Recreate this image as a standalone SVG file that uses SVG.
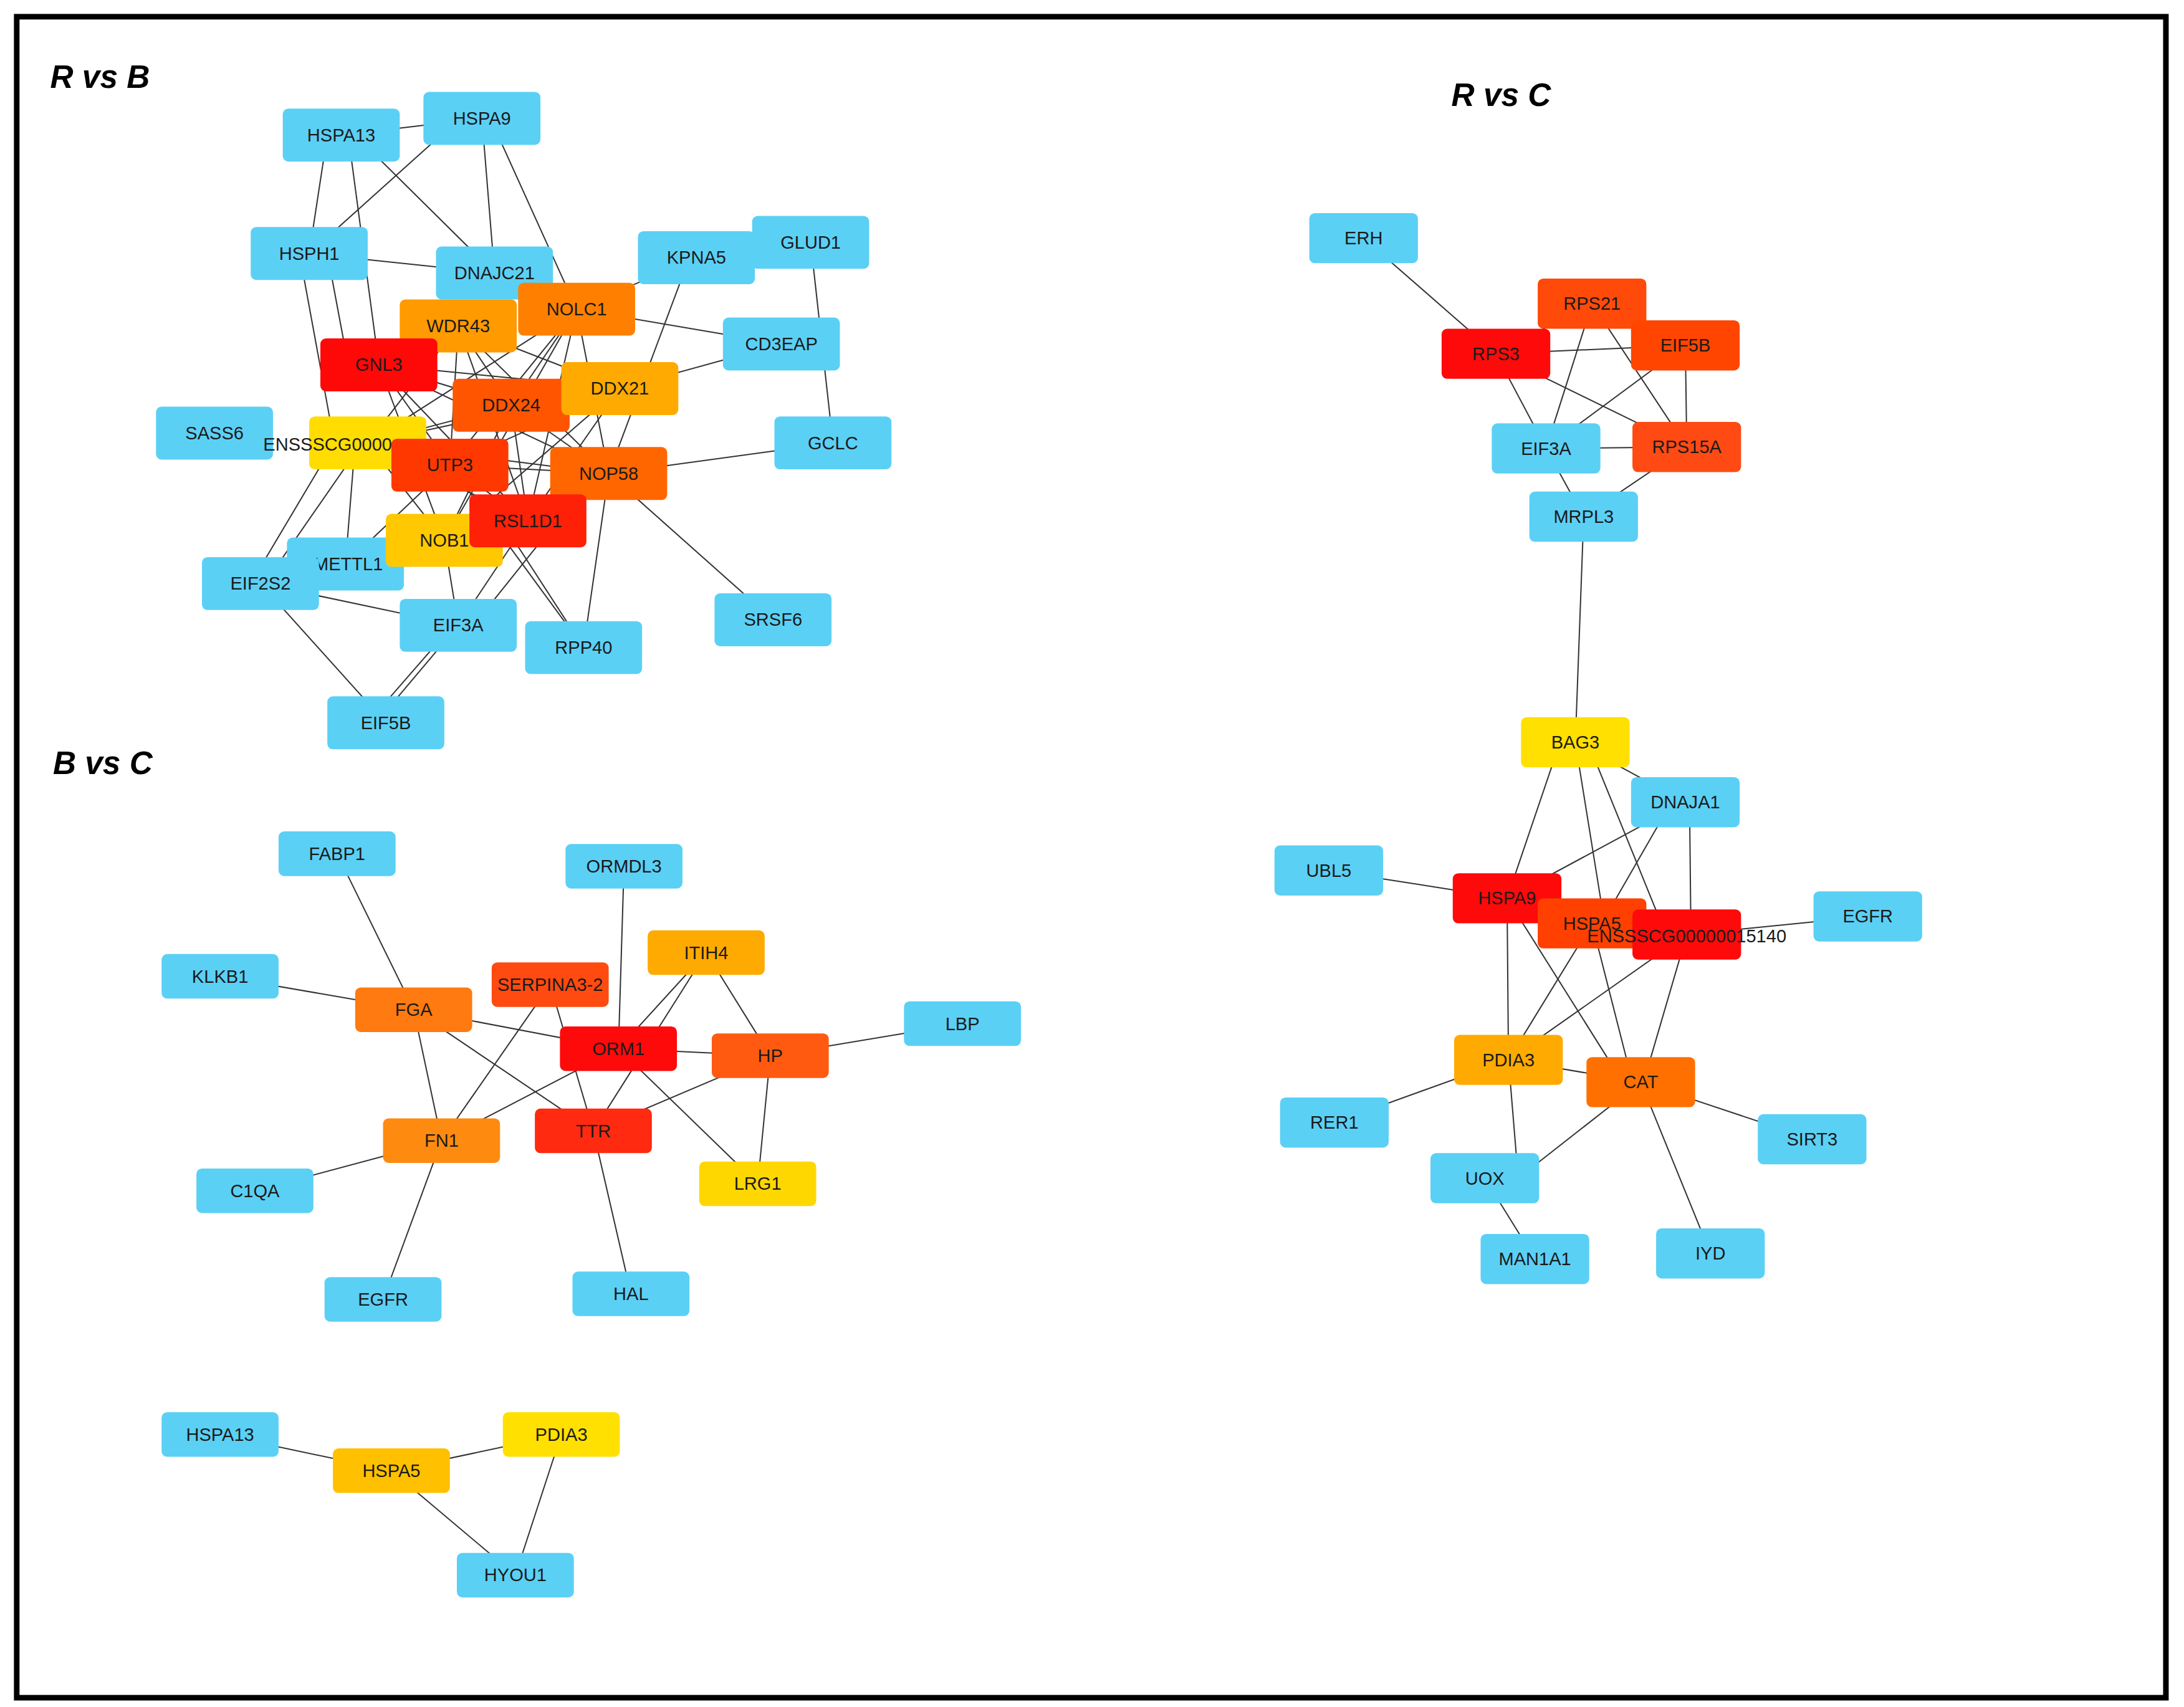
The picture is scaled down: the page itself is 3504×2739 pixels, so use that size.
<svg xmlns="http://www.w3.org/2000/svg" width="3504" height="2739" viewBox="0 0 3504 2739">
<style>
.n rect{rx:4;ry:4}
.b rect{fill:#5BD0F5}
.n text{font-family:"Liberation Sans",Arial,sans-serif;font-size:13px;fill:#1a1a1a;text-anchor:middle;dominant-baseline:central}
.e line{stroke:#333;stroke-width:0.9}
.t{font-family:"Liberation Sans",Arial,sans-serif;font-weight:bold;font-style:italic;font-size:23px;fill:#000}
</style>
<rect width="3504" height="2739" fill="#fff"/>
<g transform="scale(2.2347)">
<rect x="12" y="12" width="1543" height="1207" fill="none" stroke="#000" stroke-width="4"/>
<text class="t" x="36" y="63">R vs B</text>
<text class="t" x="1042" y="76">R vs C</text>
<text class="t" x="38" y="556">B vs C</text>
<g class="e" id="edges">
<line x1="245" y1="97" x2="346" y2="85"/><line x1="235" y1="97" x2="222" y2="182"/><line x1="250" y1="97" x2="272" y2="262"/><line x1="255" y1="97" x2="355" y2="196"/>
<line x1="330" y1="85" x2="222" y2="182"/><line x1="346" y1="85" x2="355" y2="196"/><line x1="352" y1="85" x2="414" y2="222"/>
<line x1="222" y1="182" x2="355" y2="196"/><line x1="215" y1="182" x2="240" y2="318"/><line x1="235" y1="182" x2="250" y2="262"/>
<line x1="500" y1="185" x2="414" y2="222"/><line x1="495" y1="185" x2="437" y2="340"/><line x1="582" y1="174" x2="598" y2="318"/>
<line x1="414" y1="222" x2="561" y2="247"/><line x1="445" y1="279" x2="561" y2="247"/><line x1="437" y1="340" x2="598" y2="318"/>
<line x1="437" y1="340" x2="555" y2="445"/><line x1="437" y1="340" x2="419" y2="465"/>
<line x1="187" y1="419" x2="277" y2="519"/><line x1="329" y1="449" x2="270" y2="519"/><line x1="325" y1="449" x2="264" y2="519"/><line x1="187" y1="419" x2="329" y2="449"/>
<line x1="180" y1="419" x2="240" y2="318"/><line x1="190" y1="419" x2="260" y2="318"/><line x1="248" y1="405" x2="255" y2="318"/><line x1="248" y1="405" x2="323" y2="334"/>
<line x1="329" y1="449" x2="319" y2="388"/><line x1="329" y1="449" x2="379" y2="374"/><line x1="340" y1="449" x2="400" y2="374"/><line x1="419" y1="465" x2="323" y2="334"/><line x1="419" y1="465" x2="360" y2="374"/>
<line x1="272" y1="262" x2="367" y2="291"/><line x1="272" y1="262" x2="445" y2="279"/><line x1="272" y1="262" x2="323" y2="334"/><line x1="272" y1="262" x2="379" y2="374"/><line x1="272" y1="262" x2="437" y2="340"/><line x1="272" y1="262" x2="319" y2="388"/>
<line x1="329" y1="234" x2="367" y2="291"/><line x1="329" y1="234" x2="445" y2="279"/><line x1="329" y1="234" x2="323" y2="334"/><line x1="329" y1="234" x2="437" y2="340"/><line x1="329" y1="234" x2="379" y2="374"/><line x1="329" y1="234" x2="264" y2="318"/>
<line x1="414" y1="222" x2="367" y2="291"/><line x1="414" y1="222" x2="323" y2="334"/><line x1="414" y1="222" x2="437" y2="340"/><line x1="414" y1="222" x2="379" y2="374"/><line x1="414" y1="222" x2="264" y2="318"/><line x1="414" y1="222" x2="319" y2="388"/>
<line x1="445" y1="279" x2="323" y2="334"/><line x1="445" y1="279" x2="379" y2="374"/><line x1="445" y1="279" x2="319" y2="388"/><line x1="445" y1="279" x2="264" y2="318"/>
<line x1="367" y1="291" x2="264" y2="318"/><line x1="367" y1="291" x2="437" y2="340"/><line x1="367" y1="291" x2="379" y2="374"/><line x1="367" y1="291" x2="319" y2="388"/>
<line x1="264" y1="318" x2="437" y2="340"/><line x1="264" y1="318" x2="379" y2="374"/><line x1="323" y1="334" x2="437" y2="340"/><line x1="323" y1="334" x2="379" y2="374"/>
<line x1="437" y1="340" x2="319" y2="388"/><line x1="264" y1="318" x2="319" y2="388"/>
<line x1="979" y1="171" x2="1074" y2="254"/><line x1="1143" y1="218" x2="1074" y2="254"/><line x1="1143" y1="218" x2="1210" y2="248"/><line x1="1143" y1="218" x2="1110" y2="322"/><line x1="1143" y1="218" x2="1211" y2="321"/>
<line x1="1074" y1="254" x2="1210" y2="248"/><line x1="1074" y1="254" x2="1110" y2="322"/><line x1="1074" y1="254" x2="1211" y2="321"/><line x1="1210" y1="248" x2="1110" y2="322"/><line x1="1210" y1="248" x2="1211" y2="321"/><line x1="1110" y1="322" x2="1211" y2="321"/><line x1="1211" y1="321" x2="1137" y2="371"/><line x1="1110" y1="322" x2="1137" y2="371"/>
<line x1="1137" y1="371" x2="1131" y2="533"/>
<line x1="1131" y1="533" x2="1210" y2="576"/><line x1="1120" y1="533" x2="1082" y2="645"/><line x1="1131" y1="533" x2="1152" y2="663"/><line x1="1140" y1="533" x2="1196" y2="671"/>
<line x1="1210" y1="576" x2="1082" y2="645"/><line x1="1200" y1="576" x2="1150" y2="663"/><line x1="1213" y1="576" x2="1214" y2="671"/>
<line x1="954" y1="625" x2="1082" y2="645"/><line x1="1341" y1="658" x2="1211" y2="671"/>
<line x1="1082" y1="645" x2="1083" y2="761"/><line x1="1082" y1="645" x2="1165" y2="777"/><line x1="1143" y1="663" x2="1083" y2="761"/><line x1="1143" y1="663" x2="1172" y2="777"/><line x1="1211" y1="671" x2="1083" y2="761"/><line x1="1211" y1="671" x2="1180" y2="777"/>
<line x1="1083" y1="761" x2="1178" y2="777"/><line x1="1083" y1="761" x2="958" y2="806"/><line x1="1083" y1="761" x2="1090" y2="846"/><line x1="1178" y1="777" x2="1090" y2="846"/><line x1="1178" y1="777" x2="1301" y2="818"/><line x1="1178" y1="777" x2="1228" y2="900"/><line x1="1066" y1="846" x2="1102" y2="904"/>
<line x1="242" y1="613" x2="297" y2="725"/><line x1="158" y1="701" x2="297" y2="725"/><line x1="448" y1="622" x2="444" y2="753"/><line x1="297" y1="725" x2="444" y2="753"/><line x1="297" y1="725" x2="317" y2="819"/><line x1="297" y1="725" x2="426" y2="812"/>
<line x1="395" y1="707" x2="317" y2="819"/><line x1="395" y1="707" x2="426" y2="812"/><line x1="507" y1="684" x2="444" y2="753"/><line x1="507" y1="684" x2="553" y2="758"/><line x1="507" y1="684" x2="426" y2="812"/>
<line x1="444" y1="753" x2="553" y2="758"/><line x1="444" y1="753" x2="544" y2="850"/><line x1="444" y1="753" x2="317" y2="819"/><line x1="691" y1="735" x2="553" y2="758"/><line x1="553" y1="758" x2="544" y2="850"/><line x1="553" y1="758" x2="426" y2="812"/>
<line x1="426" y1="812" x2="453" y2="929"/><line x1="317" y1="819" x2="183" y2="855"/><line x1="317" y1="819" x2="275" y2="933"/>
<line x1="158" y1="1030" x2="281" y2="1056"/><line x1="281" y1="1056" x2="403" y2="1030"/><line x1="281" y1="1056" x2="370" y2="1131"/><line x1="403" y1="1030" x2="370" y2="1131"/>
</g>
<g id="rb_HSPA13" class="n b"><rect x="203" y="78" width="84" height="38"/><text x="245" y="97">HSPA13</text></g>
<g id="rb_HSPA9" class="n b"><rect x="304" y="66" width="84" height="38"/><text x="346" y="85">HSPA9</text></g>
<g id="rb_HSPH1" class="n b"><rect x="180" y="163" width="84" height="38"/><text x="222" y="182">HSPH1</text></g>
<g id="rb_DNAJC21" class="n b"><rect x="313" y="177" width="84" height="38"/><text x="355" y="196">DNAJC21</text></g>
<g id="rb_KPNA5" class="n b"><rect x="458" y="166" width="84" height="38"/><text x="500" y="185">KPNA5</text></g>
<g id="rb_GLUD1" class="n b"><rect x="540" y="155" width="84" height="38"/><text x="582" y="174">GLUD1</text></g>
<g id="rb_CD3EAP" class="n b"><rect x="519" y="228" width="84" height="38"/><text x="561" y="247">CD3EAP</text></g>
<g id="rb_SASS6" class="n b"><rect x="112" y="292" width="84" height="38"/><text x="154" y="311">SASS6</text></g>
<g id="rb_GCLC" class="n b"><rect x="556" y="299" width="84" height="38"/><text x="598" y="318">GCLC</text></g>
<g id="rb_SRSF6" class="n b"><rect x="513" y="426" width="84" height="38"/><text x="555" y="445">SRSF6</text></g>
<g id="rb_METTL1" class="n b"><rect x="206" y="386" width="84" height="38"/><text x="250" y="405">METTL1</text></g>
<g id="rb_EIF2S2" class="n b"><rect x="145" y="400" width="84" height="38"/><text x="187" y="419">EIF2S2</text></g>
<g id="rb_EIF3A" class="n b"><rect x="287" y="430" width="84" height="38"/><text x="329" y="449">EIF3A</text></g>
<g id="rb_RPP40" class="n b"><rect x="377" y="446" width="84" height="38"/><text x="419" y="465">RPP40</text></g>
<g id="rb_EIF5B" class="n b"><rect x="235" y="500" width="84" height="38"/><text x="277" y="519">EIF5B</text></g>
<g id="rb_WDR43" class="n"><rect x="287" y="215" width="84" height="38" fill="#FF9A00"/><text x="329" y="234">WDR43</text></g>
<g id="rb_NOLC1" class="n"><rect x="372" y="203" width="84" height="38" fill="#FF8000"/><text x="414" y="222">NOLC1</text></g>
<g id="rb_GNL3" class="n"><rect x="230" y="243" width="84" height="38" fill="#FF0808"/><text x="272" y="262">GNL3</text></g>
<g id="rb_DDX24" class="n"><rect x="325" y="272" width="84" height="38" fill="#FF5500"/><text x="367" y="291">DDX24</text></g>
<g id="rb_DDX21" class="n"><rect x="403" y="260" width="84" height="38" fill="#FFAA00"/><text x="445" y="279">DDX21</text></g>
<g id="rb_ENSS" class="n"><rect x="222" y="299" width="84" height="38" fill="#FFDD00"/><text x="189" y="319" style="text-anchor:start">ENSSSCG0000</text></g>
<g id="rb_UTP3" class="n"><rect x="281" y="315" width="84" height="38" fill="#FF3800"/><text x="323" y="334">UTP3</text></g>
<g id="rb_NOP58" class="n"><rect x="395" y="321" width="84" height="38" fill="#FF6600"/><text x="437" y="340">NOP58</text></g>
<g id="rb_NOB1" class="n"><rect x="277" y="369" width="84" height="38" fill="#FFC800"/><text x="319" y="388">NOB1</text></g>
<g id="rb_RSL1D1" class="n"><rect x="337" y="355" width="84" height="38" fill="#FF2008"/><text x="379" y="374">RSL1D1</text></g>
<g id="rc_ERH" class="n b"><rect x="940" y="153" width="78" height="36"/><text x="979" y="171">ERH</text></g>
<g id="rc_EIF3A" class="n b"><rect x="1071" y="304" width="78" height="36"/><text x="1110" y="322">EIF3A</text></g>
<g id="rc_MRPL3" class="n b"><rect x="1098" y="353" width="78" height="36"/><text x="1137" y="371">MRPL3</text></g>
<g id="rc_RPS21" class="n"><rect x="1104" y="200" width="78" height="36" fill="#FF4A0A"/><text x="1143" y="218">RPS21</text></g>
<g id="rc_RPS3" class="n"><rect x="1035" y="236" width="78" height="36" fill="#FF0A0A"/><text x="1074" y="254">RPS3</text></g>
<g id="rc_EIF5B" class="n"><rect x="1171" y="230" width="78" height="36" fill="#FF4500"/><text x="1210" y="248">EIF5B</text></g>
<g id="rc_RPS15A" class="n"><rect x="1172" y="303" width="78" height="36" fill="#FF4A14"/><text x="1211" y="321">RPS15A</text></g>
<g id="rc_BAG3" class="n"><rect x="1092" y="515" width="78" height="36" fill="#FFE000"/><text x="1131" y="533">BAG3</text></g>
<g id="rc_DNAJA1" class="n b"><rect x="1171" y="558" width="78" height="36"/><text x="1210" y="576">DNAJA1</text></g>
<g id="rc_UBL5" class="n b"><rect x="915" y="607" width="78" height="36"/><text x="954" y="625">UBL5</text></g>
<g id="rc_EGFR" class="n b"><rect x="1302" y="640" width="78" height="36"/><text x="1341" y="658">EGFR</text></g>
<g id="rc_HSPA9" class="n"><rect x="1043" y="627" width="78" height="36" fill="#FF0A0A"/><text x="1082" y="645">HSPA9</text></g>
<g id="rc_HSPA5" class="n"><rect x="1104" y="645" width="78" height="36" fill="#FF4000"/><text x="1143" y="663">HSPA5</text></g>
<g id="rc_ENSS" class="n"><rect x="1172" y="653" width="78" height="36" fill="#FF0A0A"/><text x="1211" y="672">ENSSSCG00000015140</text></g>
<g id="rc_PDIA3" class="n"><rect x="1044" y="743" width="78" height="36" fill="#FFAA00"/><text x="1083" y="761">PDIA3</text></g>
<g id="rc_CAT" class="n"><rect x="1139" y="759" width="78" height="36" fill="#FF7000"/><text x="1178" y="777">CAT</text></g>
<g id="rc_RER1" class="n b"><rect x="919" y="788" width="78" height="36"/><text x="958" y="806">RER1</text></g>
<g id="rc_SIRT3" class="n b"><rect x="1262" y="800" width="78" height="36"/><text x="1301" y="818">SIRT3</text></g>
<g id="rc_UOX" class="n b"><rect x="1027" y="828" width="78" height="36"/><text x="1066" y="846">UOX</text></g>
<g id="rc_MAN1A1" class="n b"><rect x="1063" y="886" width="78" height="36"/><text x="1102" y="904">MAN1A1</text></g>
<g id="rc_IYD" class="n b"><rect x="1189" y="882" width="78" height="36"/><text x="1228" y="900">IYD</text></g>
<g id="bc_FABP1" class="n b"><rect x="200" y="597" width="84" height="32"/><text x="242" y="613">FABP1</text></g>
<g id="bc_ORMDL3" class="n b"><rect x="406" y="606" width="84" height="32"/><text x="448" y="622">ORMDL3</text></g>
<g id="bc_KLKB1" class="n b"><rect x="116" y="685" width="84" height="32"/><text x="158" y="701">KLKB1</text></g>
<g id="bc_LBP" class="n b"><rect x="649" y="719" width="84" height="32"/><text x="691" y="735">LBP</text></g>
<g id="bc_C1QA" class="n b"><rect x="141" y="839" width="84" height="32"/><text x="183" y="855">C1QA</text></g>
<g id="bc_EGFR" class="n b"><rect x="233" y="917" width="84" height="32"/><text x="275" y="933">EGFR</text></g>
<g id="bc_HAL" class="n b"><rect x="411" y="913" width="84" height="32"/><text x="453" y="929">HAL</text></g>
<g id="bc_ITIH4" class="n"><rect x="465" y="668" width="84" height="32" fill="#FFAA00"/><text x="507" y="684">ITIH4</text></g>
<g id="bc_SERPINA3-2" class="n"><rect x="353" y="691" width="84" height="32" fill="#FF4A10"/><text x="395" y="707">SERPINA3-2</text></g>
<g id="bc_FGA" class="n"><rect x="255" y="709" width="84" height="32" fill="#FF7A10"/><text x="297" y="725">FGA</text></g>
<g id="bc_ORM1" class="n"><rect x="402" y="737" width="84" height="32" fill="#FF0A0A"/><text x="444" y="753">ORM1</text></g>
<g id="bc_HP" class="n"><rect x="511" y="742" width="84" height="32" fill="#FF5A10"/><text x="553" y="758">HP</text></g>
<g id="bc_FN1" class="n"><rect x="275" y="803" width="84" height="32" fill="#FF8A10"/><text x="317" y="819">FN1</text></g>
<g id="bc_TTR" class="n"><rect x="384" y="796" width="84" height="32" fill="#FF2A10"/><text x="426" y="812">TTR</text></g>
<g id="bc_LRG1" class="n"><rect x="502" y="834" width="84" height="32" fill="#FFD700"/><text x="544" y="850">LRG1</text></g>
<g id="bc_HSPA13" class="n b"><rect x="116" y="1014" width="84" height="32"/><text x="158" y="1030">HSPA13</text></g>
<g id="bc_PDIA3" class="n"><rect x="361" y="1014" width="84" height="32" fill="#FFE000"/><text x="403" y="1030">PDIA3</text></g>
<g id="bc_HSPA5" class="n"><rect x="239" y="1040" width="84" height="32" fill="#FFC000"/><text x="281" y="1056">HSPA5</text></g>
<g id="bc_HYOU1" class="n b"><rect x="328" y="1115" width="84" height="32"/><text x="370" y="1131">HYOU1</text></g>
</g>
</svg>
